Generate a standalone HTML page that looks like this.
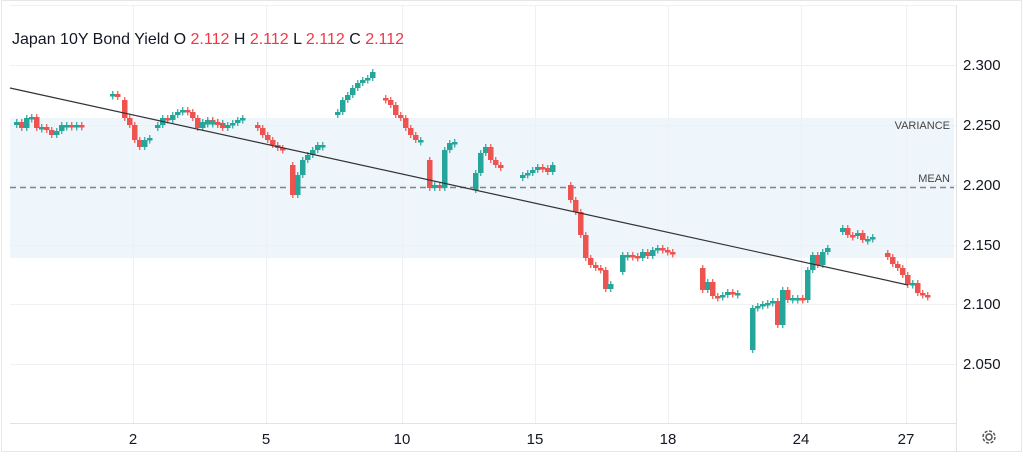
<!DOCTYPE html>
<html><head><meta charset="utf-8"><style>
html,body{margin:0;padding:0;background:#fff;}
body{width:1023px;height:453px;overflow:hidden;font-family:"Liberation Sans",Arial,sans-serif;}
</style></head><body>
<svg id="s" width="1023" height="453" xmlns="http://www.w3.org/2000/svg" font-family="Liberation Sans, Arial, sans-serif">
<rect x="1.5" y="0.5" width="1020" height="451" fill="none" stroke="#e6e6e6"/>
<rect x="10" y="118" width="944" height="140" fill="#eef5fb"/>
<g stroke="#eef0f3" stroke-width="1">
<line x1="133.5" y1="5" x2="133.5" y2="423"/><line x1="266.5" y1="5" x2="266.5" y2="423"/>
<line x1="402.5" y1="5" x2="402.5" y2="423"/><line x1="535.5" y1="5" x2="535.5" y2="423"/>
<line x1="668.5" y1="5" x2="668.5" y2="423"/><line x1="801.5" y1="5" x2="801.5" y2="423"/>
<line x1="906.5" y1="5" x2="906.5" y2="423"/>
<line x1="10" y1="5.5" x2="956" y2="5.5"/>
<line x1="10" y1="65.5" x2="956" y2="65.5"/><line x1="10" y1="125.5" x2="956" y2="125.5"/>
<line x1="10" y1="185.5" x2="956" y2="185.5"/><line x1="10" y1="245.5" x2="956" y2="245.5"/>
<line x1="10" y1="304.5" x2="956" y2="304.5"/><line x1="10" y1="364.5" x2="956" y2="364.5"/>
</g>
<line x1="10" y1="423.5" x2="956" y2="423.5" stroke="#e3e3e3"/>
<line x1="956.5" y1="5" x2="956.5" y2="452" stroke="#e3e3e3"/>
<line x1="10" y1="187.5" x2="954" y2="187.5" stroke="#7e838c" stroke-width="1.5" stroke-dasharray="6,4"/>
<g id="c"></g>
<line x1="10" y1="88" x2="908" y2="285" stroke="#333" stroke-width="1.2"/>
<text x="950" y="129" font-size="11" fill="#444" text-anchor="end">VARIANCE</text>
<text x="950" y="182" font-size="11" fill="#444" text-anchor="end">MEAN</text>
<g font-size="15" fill="#131722">
<text x="963" y="70">2.300</text><text x="963" y="130">2.250</text><text x="963" y="190">2.200</text>
<text x="963" y="250">2.150</text><text x="963" y="309">2.100</text><text x="963" y="369">2.050</text>
</g>
<g font-size="15" fill="#131722" text-anchor="middle">
<text x="133" y="444">2</text><text x="266" y="444">5</text><text x="402" y="444">10</text>
<text x="535" y="444">15</text><text x="668" y="444">18</text><text x="801" y="444">24</text><text x="906" y="444">27</text>
</g>
<text x="12" y="44" font-size="16" fill="#131722">Japan 10Y Bond Yield O <tspan fill="#f23645">2.112</tspan> H <tspan fill="#f23645">2.112</tspan> L <tspan fill="#f23645">2.112</tspan> C <tspan fill="#f23645">2.112</tspan></text>
<g transform="translate(989,437)" fill="none" stroke="#555" stroke-width="1.5">
<circle r="3"/><circle r="6" stroke-dasharray="3,1.7"/>
</g>
</svg>
<script>
var clusters=[
[14,125,[122,128,118,117,128,127,130,135,131,125,125,127,125,126]],
[110,95,[94,97]],
[122,100,[118,125,140,147,140,138]],
[155,128,[125,118,120,115,112,110,112,118,128,122,120,122,124,123]],
[205,123,[122,122,125,128,125,123,120,118]],
[255,125,[128,135,140,145,148,150]],
[290,165,[195,175,160,155,150,145,145]],
[335,115,[112,100,95,88,83,80,78,72]],
[383,98,[100,105,115,118,128,135,140,140]],
[427,160,[188,185,188,150,143,142]],
[473,190,[173,153,147,160,165,168]],
[520,178,[175,173,170,167,168,172,165]],
[568,185,[200,212,235,258,265,268,270,289,284]],
[620,272,[255,255,256,258,252,256,250,248,250,252,254]],
[700,268,[290,282,296,297,295,292,293,293]],
[750,350,[308,306,304,303,301,325,290,300,298,298,300,270,255,265,252,248]],
[840,232,[228,235,236,233,240,239,237]],
[885,253,[257,264,268,275,285,283,293,295,296]]
];
var g=document.getElementById('c'),h='';
clusters.forEach(function(c){var x=c[0],o=c[1];c[2].forEach(function(cl){
var top=Math.min(o,cl),bot=Math.max(o,cl);if(bot-top<2.5){bot=top+2.5;}
var col=cl>o?'#ef5350':'#26a69a';
h+='<line x1="'+(x+2.75)+'" y1="'+(top-3)+'" x2="'+(x+2.75)+'" y2="'+(bot+3)+'" stroke="'+col+'" stroke-width="1.2"/>';
h+='<rect x="'+x+'" y="'+top+'" width="5.5" height="'+(bot-top)+'" fill="'+col+'"/>';
o=cl;x+=5;});});
g.innerHTML=h;
</script>
</body></html>
